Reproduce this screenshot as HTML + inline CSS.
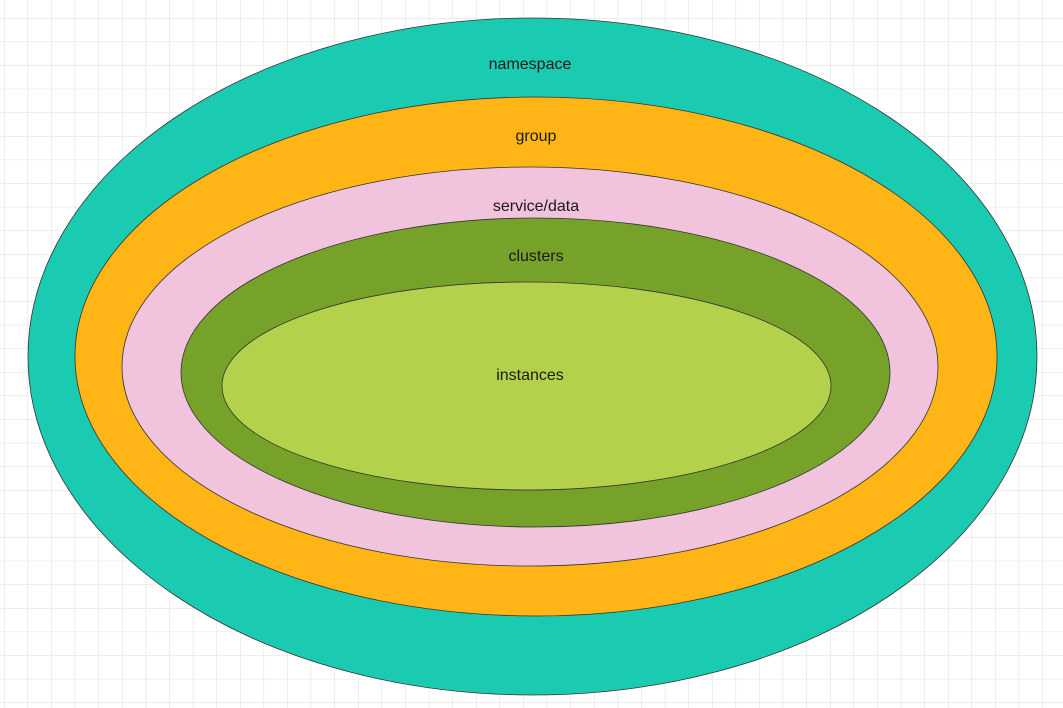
<!DOCTYPE html>
<html><head><meta charset="utf-8"><style>
html,body{margin:0;padding:0;background:#fff;}
svg{display:block;}
text{font-family:"Liberation Sans",sans-serif;font-size:16px;fill:#1a1a1a;text-anchor:middle;}
</style></head><body>
<svg width="1063" height="708" viewBox="0 0 1063 708" xmlns="http://www.w3.org/2000/svg">
<defs>
<pattern id="g" x="4" y="18" width="23.6" height="23.6" patternUnits="userSpaceOnUse">
<path d="M0 0H23.6M0 0V23.6" stroke="#dedede" stroke-width="1" fill="none"/>
</pattern>
</defs>
<rect width="1063" height="708" fill="#fff"/>
<rect width="1063" height="708" fill="url(#g)"/>
<ellipse cx="532.5" cy="356.5" rx="504.5" ry="338.5" fill="#1bcbb1" stroke="#333" stroke-width="0.8"/>
<ellipse cx="536" cy="356.5" rx="461" ry="259.5" fill="#feb515" stroke="#333" stroke-width="0.8"/>
<ellipse cx="530" cy="366.5" rx="408" ry="199.5" fill="#f1c3dc" stroke="#333" stroke-width="0.8"/>
<ellipse cx="535.5" cy="372.5" rx="354.5" ry="154.5" fill="#76a22a" stroke="#333" stroke-width="0.8"/>
<ellipse cx="526.5" cy="386" rx="304.5" ry="104" fill="#b4d14c" stroke="#333" stroke-width="0.8"/>
<text x="530" y="69">namespace</text>
<text x="536" y="141">group</text>
<text x="536" y="211">service/data</text>
<text x="536" y="261">clusters</text>
<text x="530" y="380">instances</text>
</svg>
</body></html>
